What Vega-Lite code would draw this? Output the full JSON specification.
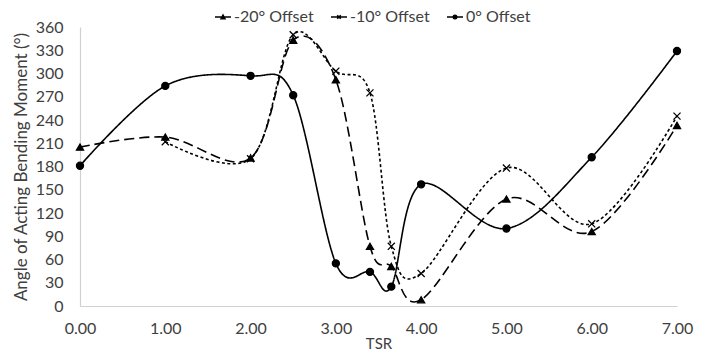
{
  "$schema": "https://vega.github.io/schema/vega-lite/v6.json",
  "width": 597,
  "height": 279,
  "autosize": {"type": "none"},
  "padding": {"left": 80, "top": 27, "right": 34, "bottom": 48},
  "background": "white",
  "config": {
    "font": "Lato",
    "view": {"stroke": null},
    "axis": {"labelFont": "Lato", "titleFont": "Lato", "labelFontSize": 16, "titleFontSize": 17, "labelColor": "#404040", "titleColor": "#404040", "titleFontWeight": "normal", "grid": false, "ticks": false, "domain": true, "domainColor": "#d0d0d0", "domainWidth": 1.2, "labelFlush": false}
  },
  "data": {
    "values": [
      {"series": "-20° Offset", "tsr": 0, "angle": 205},
      {"series": "-20° Offset", "tsr": 1, "angle": 218},
      {"series": "-20° Offset", "tsr": 2, "angle": 191},
      {"series": "-20° Offset", "tsr": 2.5, "angle": 343},
      {"series": "-20° Offset", "tsr": 3, "angle": 292},
      {"series": "-20° Offset", "tsr": 3.4, "angle": 77},
      {"series": "-20° Offset", "tsr": 3.65, "angle": 51},
      {"series": "-20° Offset", "tsr": 4, "angle": 8},
      {"series": "-20° Offset", "tsr": 5, "angle": 138},
      {"series": "-20° Offset", "tsr": 6, "angle": 96},
      {"series": "-20° Offset", "tsr": 7, "angle": 233},
      {"series": "-10° Offset", "tsr": 1, "angle": 212},
      {"series": "-10° Offset", "tsr": 2, "angle": 190},
      {"series": "-10° Offset", "tsr": 2.5, "angle": 350},
      {"series": "-10° Offset", "tsr": 3, "angle": 303},
      {"series": "-10° Offset", "tsr": 3.4, "angle": 275},
      {"series": "-10° Offset", "tsr": 3.65, "angle": 77},
      {"series": "-10° Offset", "tsr": 4, "angle": 42},
      {"series": "-10° Offset", "tsr": 5, "angle": 178},
      {"series": "-10° Offset", "tsr": 6, "angle": 106},
      {"series": "-10° Offset", "tsr": 7, "angle": 245},
      {"series": "0° Offset", "tsr": 0, "angle": 181},
      {"series": "0° Offset", "tsr": 1, "angle": 284},
      {"series": "0° Offset", "tsr": 2, "angle": 297},
      {"series": "0° Offset", "tsr": 2.5, "angle": 272},
      {"series": "0° Offset", "tsr": 3, "angle": 55},
      {"series": "0° Offset", "tsr": 3.4, "angle": 44},
      {"series": "0° Offset", "tsr": 3.65, "angle": 25},
      {"series": "0° Offset", "tsr": 4, "angle": 157},
      {"series": "0° Offset", "tsr": 5, "angle": 100},
      {"series": "0° Offset", "tsr": 6, "angle": 192},
      {"series": "0° Offset", "tsr": 7, "angle": 329}
    ]
  },
  "encoding": {
    "x": {"field": "tsr", "type": "quantitative", "title": "TSR", "scale": {"domain": [0, 7], "nice": false, "zero": false},
      "axis": {"values": [0, 1, 2, 3, 4, 5, 6, 7], "format": ".2f", "labelPadding": 14, "titlePadding": 0, "titleFontSize": 15}},
    "y": {"field": "angle", "type": "quantitative", "title": "Angle of Acting Bending Moment (°)", "scale": {"domain": [0, 360], "nice": false},
      "axis": {"values": [0, 30, 60, 90, 120, 150, 180, 210, 240, 270, 300, 330, 360], "labelPadding": 17, "titlePadding": 5}}
  },
  "resolve": {"scale": {"shape": "independent"}, "legend": {"shape": "independent"}},
  "layer": [
    {
      "mark": {"type": "line", "interpolate": "cardinal", "color": "black", "strokeWidth": 1.6},
      "encoding": {
        "detail": {"field": "series"},
        "strokeDash": {"field": "series", "type": "nominal", "legend": null,
          "scale": {"domain": ["-20° Offset", "-10° Offset", "0° Offset"], "range": [[10, 5], [3, 2.5], [1, 0]]}}
      }
    },
    {
      "mark": {"type": "point", "filled": true, "fill": "black", "stroke": "black", "strokeWidth": 1.3, "opacity": 1, "size": 50},
      "encoding": {
        "shape": {"field": "series", "type": "nominal", "legend": null,
          "scale": {"domain": ["-20° Offset", "-10° Offset", "0° Offset"], "range": ["triangle-up", "M-1,-1L1,1M-1,1L1,-1", "circle"]}}
      }
    },
    {
      "mark": {"type": "point", "filled": false, "fill": "black", "stroke": "black", "strokeWidth": 1.5, "opacity": 1, "size": 0},
      "encoding": {
        "shape": {"field": "series", "type": "nominal",
          "scale": {"domain": ["-20° Offset", "-10° Offset", "0° Offset"], "range": ["M-1,0H1M-0.25,0.22L0,-0.25L0.25,0.22Z", "M-1,0H1M-0.22,-0.22L0.22,0.22M-0.22,0.22L0.22,-0.22", "M-1,0H1M-0.22,0A0.22,0.22,0,1,1,0.22,0A0.22,0.22,0,1,1,-0.22,0Z"]},
          "legend": {"title": null, "orient": "none", "legendX": 134, "legendY": -19, "direction": "horizontal", "columns": 3, "columnPadding": 14, "symbolSize": 256, "symbolStrokeColor": "black", "symbolFillColor": "black", "symbolStrokeWidth": 1.5, "symbolOpacity": 1, "labelFont": "Lato", "labelFontSize": 16, "labelColor": "#404040", "labelOffset": 2,
            "encoding": {"symbols": {"stroke": {"value": "black"}, "strokeWidth": {"value": 1.5}, "fill": {"value": "black"}, "opacity": {"value": 1}, "strokeOpacity": {"value": 1}, "size": {"value": 256}}}}},
        "strokeDash": {"field": "series", "type": "nominal",
          "legend": {"title": null, "orient": "none", "legendX": 134, "legendY": -19, "direction": "horizontal", "columns": 3, "columnPadding": 14, "symbolSize": 256, "symbolStrokeColor": "black", "symbolFillColor": "black", "symbolStrokeWidth": 1.5, "symbolOpacity": 1, "labelFont": "Lato", "labelFontSize": 16, "labelColor": "#404040", "labelOffset": 2,
            "encoding": {"symbols": {"stroke": {"value": "black"}, "strokeWidth": {"value": 1.5}, "fill": {"value": "black"}, "opacity": {"value": 1}, "strokeOpacity": {"value": 1}, "size": {"value": 256}}}}}
      }
    }
  ]
}
